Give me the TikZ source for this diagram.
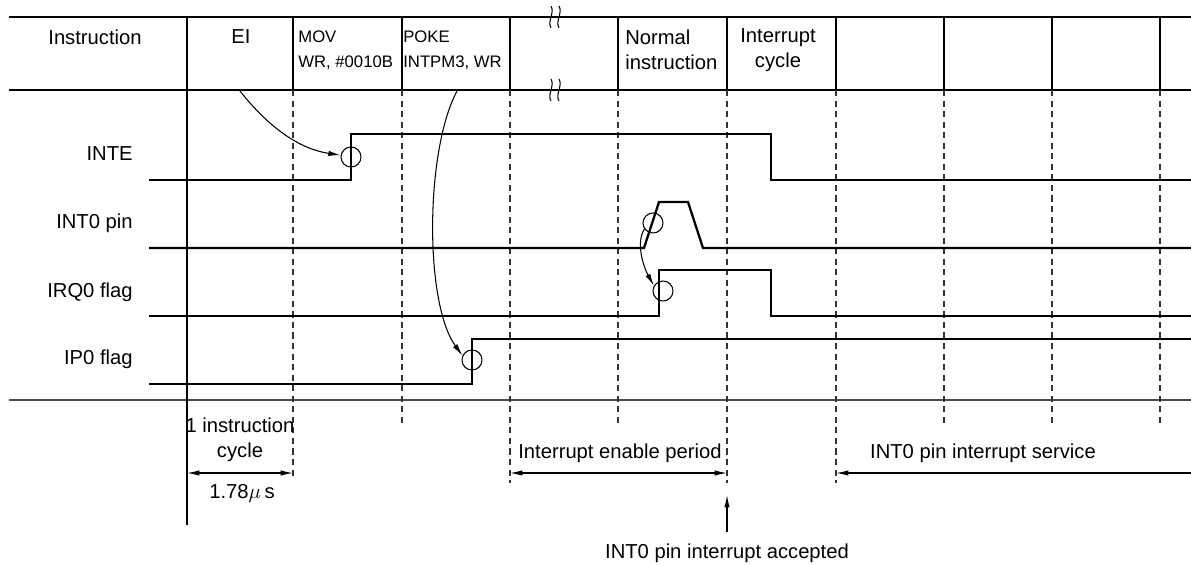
\documentclass[tikz,border=0pt]{standalone}
\usepackage{fontspec}
\setmainfont{Liberation Sans}
\usetikzlibrary{arrows.meta}

\begin{document}
\begin{tikzpicture}[x=0.02cm,y=-0.02cm,
    rule/.style={line width=0.6pt},
    wave/.style={line width=1.3pt,line join=miter},
    grid dash/.style={line width=0.6pt,black!80,dash pattern=on 3.5pt off 2.5pt},
    mark ring/.style={draw,circle,line width=0.6pt,minimum size=0.4cm,inner sep=0pt},
    txt/.style={font=\fontsize{11.5}{14}\selectfont},
    small txt/.style={font=\fontsize{9.5}{14}\selectfont,align=left,anchor=west,inner sep=0pt},
    sig label/.style={txt,anchor=east,inner sep=0pt},
    dim arrow/.style={line width=0.6pt,{Latex[length=7pt,width=3pt]}-{Latex[length=7pt,width=3pt]}},
    pointer/.style={line width=0.6pt,-{Latex[length=7pt,width=3pt]}}]
    \useasboundingbox (0,0) rectangle (1191,565);

    % table frame
    \draw[rule] (9,17) -- (1191,17);
    \draw[rule] (9,90) -- (1191,90);
    \draw[rule,black!70] (9,400) -- (1191,400);
    \draw[rule] (187,17) -- (187,525);
    \foreach \x in {293,402,510,618,727,836,944,1052,1160}
      \draw[rule] (\x,17) -- (\x,90);

    % break marks
    \foreach \y in {17,90}
      \foreach \x in {551,559}
        \draw[rule] (\x,\y-11) .. controls (\x+4,\y-4) and (\x-4,\y+4) .. (\x,\y+11);

    % dashed time grid
    \foreach \x/\e in {293/479,402/426,510/483,618/426,727/483,836/483,944/426,1052/426,1160/426}
      \draw[grid dash] (\x,90) -- (\x,\e);

    % header
    \node[txt] (hd-instr) at (95,37) {Instruction};
    \node[txt] (hd-ei) at (241,37) {EI};
    \node[small txt] (hd-mov) at (298,50) {MOV\\WR, \#0010B};
    \node[small txt] (hd-poke) at (403,50) {POKE\\INTPM3, WR};
    \node[txt,align=left,anchor=west,inner sep=0pt] (hd-normal) at (625,50) {Normal\\instruction};
    \node[txt,align=center] (hd-intcyc) at (778,50) {Interrupt\\cycle};

    % signal names
    \node[sig label] (lb-inte) at (133,154) {INTE};
    \node[sig label] (lb-int0) at (133,223) {INT0 pin};
    \node[sig label] (lb-irq0) at (133,292) {IRQ0 flag};
    \node[sig label] (lb-ip0) at (133,359) {IP0 flag};

    % waveforms
    \draw[wave] (149,180) -- (351,180) -- (351,134) -- (771,134) -- (771,180) -- (1191,180);
    \draw[wave] (149,248) -- (644,248) -- (659,202) -- (688,202) -- (703,248) -- (1191,248);
    \draw[wave] (149,316) -- (659,316) -- (659,270) -- (771,270) -- (771,316) -- (1191,316);
    \draw[wave] (149,384) -- (472,384) -- (472,339) -- (1191,339);

    % sampled edges
    \node[mark ring] (rg-inte) at (351,157) {};
    \node[mark ring] (rg-int0) at (653,223) {};
    \node[mark ring] (rg-irq0) at (663,291) {};
    \node[mark ring] (rg-ip0) at (472,360) {};

    % cause arrows
    \coordinate (ei-foot) at (240,91);
    \coordinate (poke-foot) at (457,91);
    \draw[pointer] (ei-foot) .. controls +(30,38) and +(-40,-6) .. (rg-inte.170);
    \draw[pointer] (poke-foot) .. controls +(-32,60) and +(-38,-52) .. (rg-ip0.155);
    \draw[pointer] (rg-int0.215) .. controls +(-9,14) and +(-10,-18) .. (rg-irq0.150);

    % timing notes
    \node[txt,align=center] (nt-cycle) at (240,440) {1 instruction\\cycle};
    \coordinate (cyc-l) at (187,473);
    \coordinate (cyc-r) at (293,473);
    \draw[dim arrow] (cyc-l) -- (cyc-r);
    \node[txt] (nt-time) at (242,493) {1.78$\mu$\,s};

    \node[txt] (nt-enable) at (620,453) {Interrupt enable period};
    \coordinate (en-l) at (510,473);
    \coordinate (en-r) at (727,473);
    \draw[dim arrow] (en-l) -- (en-r);

    \node[txt] (nt-service) at (983,453) {INT0 pin interrupt service};
    \coordinate (sv-l) at (836,473);
    \coordinate (sv-r) at (1191,473);
    \draw[pointer] (sv-r) -- (sv-l);

    \node[txt] (nt-accept) at (727,553) {INT0 pin interrupt accepted};
    \coordinate (acc-tip) at (727,495);
    \draw[pointer,shorten <=3pt] (nt-accept) -- (acc-tip);
\end{tikzpicture}
\end{document}
